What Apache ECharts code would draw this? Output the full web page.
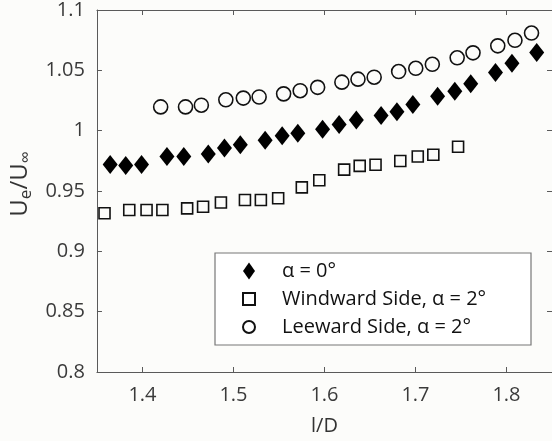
<!DOCTYPE html>
<html>
<head>
<meta charset="utf-8">
<script src="https://cdn.jsdelivr.net/npm/echarts@6/dist/echarts.min.js"></script>
<style>
html,body{margin:0;padding:0;background:#fcfcfa;}
#c{width:552px;height:441px;}
</style>
</head>
<body>
<div id="c"></div>
<script>
// alpha = 0 deg
const xAlpha0 = [1.3645,1.3816,1.399,1.4269,1.4454,1.4723,1.4901,1.5075,1.5348,1.5535,1.5707,1.5979,1.6161,1.635,1.6622,1.6796,1.6971,1.7243,1.7432,1.7607,1.7879,1.806,1.8332];
const yAlpha0 = [0.972,0.9712,0.972,0.9785,0.9785,0.9807,0.9856,0.9884,0.9921,0.9957,0.9979,1.0011,1.0052,1.0088,1.0126,1.0156,1.0216,1.0285,1.0326,1.0388,1.0482,1.0558,1.0648];
// windward side, alpha = 2 deg
const xWind = [1.3583,1.3855,1.4045,1.4219,1.4491,1.4666,1.4862,1.5126,1.5301,1.5491,1.5751,1.5943,1.6216,1.6387,1.6561,1.6833,1.7025,1.7196,1.7468];
const yWind = [0.9315,0.9343,0.9343,0.9343,0.9356,0.937,0.9405,0.9425,0.9425,0.944,0.953,0.9589,0.9677,0.9708,0.9718,0.9749,0.9786,0.98,0.9867];
// leeward side, alpha = 2 deg
const xLee = [1.42,1.4473,1.4647,1.4916,1.5108,1.5282,1.5551,1.5733,1.5925,1.6191,1.6368,1.6546,1.6815,1.7003,1.7185,1.7458,1.7632,1.7904,1.8093,1.8275];
const yLee = [1.0197,1.0197,1.0211,1.0256,1.027,1.0279,1.0305,1.0331,1.0359,1.0402,1.0427,1.0443,1.049,1.0517,1.055,1.0604,1.0645,1.0703,1.0749,1.0809];

const seriesNames = ['α = 0°', 'Windward Side, α = 2°', 'Leeward Side, α = 2°'];
const xName = 'l/D';

function pairs(xs, ys){ return xs.map((x,i)=>[x, ys[i]]); }

const chart = echarts.init(document.getElementById('c'), null, {renderer:'canvas'});
const font = 'Open Sans';
const axisColor = '#5a5a5a';
const tickCommon = {show:true, inside:true, length:5, lineStyle:{color:axisColor, width:1}};

chart.setOption({
  backgroundColor:'#fcfcfa',
  animation:false,
  grid:{left:96, top:6, width:458, height:366, containLabel:false},
  xAxis:[{
    type:'value', min:1.35, max:1.85, splitNumber:5,
    name:xName, nameLocation:'middle', nameGap:44,
    nameTextStyle:{fontFamily:font, fontSize:20, color:'#333'},
    axisLine:{show:true, onZero:false, lineStyle:{color:axisColor, width:1}},
    axisTick:tickCommon,
    splitLine:{show:false},
    axisLabel:{fontFamily:font, fontSize:20, color:'#3a3a3a', margin:13, showMinLabel:false, showMaxLabel:false}
  },{
    type:'value', min:1.35, max:1.85, splitNumber:5, position:'top',
    axisLine:{show:true, onZero:false, lineStyle:{color:axisColor, width:1}},
    axisTick:tickCommon, axisLabel:{show:false}, splitLine:{show:false}
  }],
  yAxis:[{
    type:'value', min:0.8, max:1.1, interval:0.05,
    name:'U{s|e}/U{s|∞}', nameLocation:'middle', nameGap:62, nameRotate:90,
    nameTextStyle:{fontFamily:font, fontSize:24, color:'#333', padding:[0,0,0,14],
      rich:{s:{fontFamily:font, fontSize:17, color:'#333', verticalAlign:'bottom', padding:[12,0,0,0]}}},
    axisLine:{show:true, onZero:false, lineStyle:{color:axisColor, width:1}},
    axisTick:tickCommon,
    splitLine:{show:false},
    axisLabel:{fontFamily:font, fontSize:20, color:'#3a3a3a', margin:12}
  },{
    type:'value', min:0.8, max:1.1, interval:0.05, position:'right',
    axisLine:{show:true, onZero:false, lineStyle:{color:axisColor, width:1}},
    axisTick:tickCommon, axisLabel:{show:false}, splitLine:{show:false}
  }],
  legend:{
    orient:'vertical', left:215, top:253,
    backgroundColor:'#ffffff', borderColor:'#777', borderWidth:1.2, borderRadius:0,
    padding:[8,6,8,27], itemGap:8, itemWidth:12, itemHeight:17,
    textStyle:{fontFamily:font, fontSize:20, color:'#111', lineHeight:20, padding:[0,0,0,22], width:243},
    data:[
      {name:seriesNames[0], icon:'diamond'},
      {name:seriesNames[1], icon:'path://M0 0H10V10H0Z'},
      {name:seriesNames[2], icon:'circle'}
    ]
  },
  series:[
    {name:seriesNames[0], type:'scatter', symbol:'diamond', symbolSize:[15,19],
     itemStyle:{color:'#000', borderColor:'#000', borderWidth:0, opacity:1},
     data:pairs(xAlpha0, yAlpha0)},
    {name:seriesNames[1], type:'scatter', symbol:'rect', symbolSize:11,
     itemStyle:{color:'rgba(255,255,255,0)', borderColor:'#111', borderWidth:1.6, opacity:1},
     data:pairs(xWind, yWind)},
    {name:seriesNames[2], type:'scatter', symbol:'circle', symbolSize:14,
     itemStyle:{color:'rgba(255,255,255,0)', borderColor:'#111', borderWidth:1.6, opacity:1},
     data:pairs(xLee, yLee)}
  ]
});
</script>
</body>
</html>
